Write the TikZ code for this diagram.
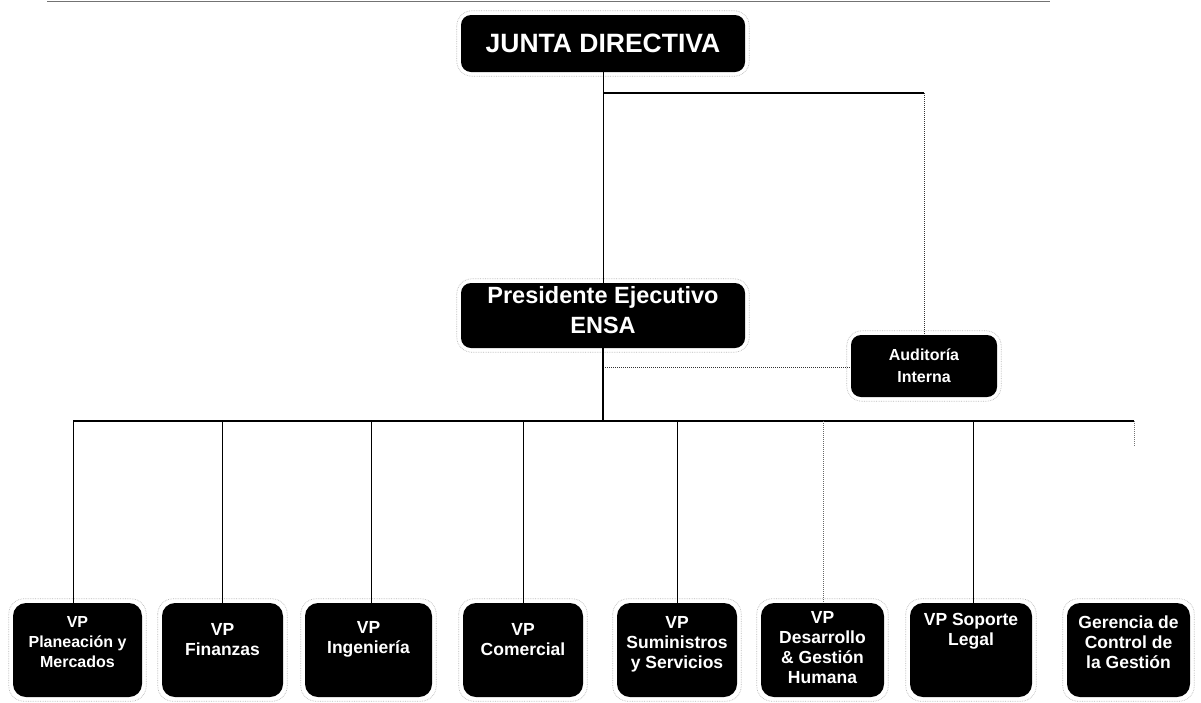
\documentclass[tikz,border=0pt]{standalone}
\usepackage{fontspec}
\setmainfont{Liberation Sans}
\begin{document}
\begin{tikzpicture}[x=1pt,y=-1pt,
  box/.style={fill=black, rounded corners=13pt, inner sep=0pt, minimum height=94},
  bigbox/.style={fill=black, rounded corners=10pt, inner sep=0pt},
  lbl/.style={text=white, font=\bfseries\fontsize{17.5}{20}\selectfont, align=center, inner sep=0pt},
  ring/.style={draw=black!28, line width=0.7pt, rounded corners=15pt, densely dotted},
  link/.style={draw=black, line width=1.3pt},
  drop/.style={draw=black, line width=0.8pt},
  dotline/.style={draw=black!80, line width=1pt, densely dotted}]
\useasboundingbox (0,0) rectangle (1201,702);

% page rule at top
\coordinate (r1) at (47,1.5);
\coordinate (r2) at (1050,1.5);
\draw[draw=black!55, line width=1.3pt] (r1) -- (r2);

% upper boxes
\node[bigbox, minimum width=284, minimum height=57] (junta) at (603,43.5) {};
\node[text=white, font=\bfseries\fontsize{26.5}{30}\selectfont, inner sep=0pt] (tjunta) at (junta.center) {JUNTA DIRECTIVA};
\node[bigbox, minimum width=284, minimum height=65] (pres) at (603,315.5) {};
\node[text=white, font=\bfseries\fontsize{23.5}{30}\selectfont, align=center, inner sep=0pt] (tpres) at ([yshift=5pt]pres.center) {Presidente Ejecutivo\\ENSA};
\node[bigbox, minimum width=146, minimum height=62] (aud) at (924,366) {};
\node[lbl, font=\bfseries\fontsize{16}{22}\selectfont] (taud) at (aud.center) {Auditoría\\Interna};

% bottom boxes
\node[box, minimum width=129] (b1) at (77.5,650) {};
\node[box, minimum width=121] (b2) at (222.5,650) {};
\node[box, minimum width=127] (b3) at (368.5,650) {};
\node[box, minimum width=120] (b4) at (523,650) {};
\node[box, minimum width=120] (b5) at (677,650) {};
\node[box, minimum width=123] (b6) at (822.5,650) {};
\node[box, minimum width=122] (b7) at (971,650) {};
\node[box, minimum width=123] (b8) at (1128.5,650) {};

\node[lbl, font=\bfseries\fontsize{16}{20}\selectfont] (l1) at ([yshift=8pt]b1.center) {VP\\Planeación y\\Mercados};
\node[lbl] (l2) at ([yshift=10pt]b2.center) {VP\\Finanzas};
\node[lbl] (l3) at ([yshift=11pt]b3.center) {VP\\Ingeniería};
\node[lbl] (l4) at ([yshift=10pt]b4.center) {VP\\Comercial};
\node[lbl] (l5) at ([yshift=6pt]b5.center) {VP\\Suministros\\y Servicios};
\node[lbl] (l6) at ([yshift=2pt]b6.center) {VP\\Desarrollo\\\& Gestión\\Humana};
\node[lbl] (l7) at ([yshift=19pt]b7.center) {VP Soporte\\Legal};
\node[lbl] (l8) at ([yshift=8pt]b8.center) {Gerencia de\\Control de\\la Gestión};

% light outlines round the boxes
\foreach \n in {junta,pres,aud,b1,b2,b3,b4,b5,b6,b7,b8}
  \draw[ring] ([shift={(-4,-4)}]\n.north west) rectangle ([shift={(4,4)}]\n.south east);

% connectors
\coordinate (br) at (603,93);
\draw[drop, line width=1pt] (junta.south) -- (pres.north);
\draw[link] (br) -- (br -| aud.north);
\draw[dotline] (br -| aud.north) -- (aud.north);
\coordinate (dl) at (603,367);
\draw[dotline] (dl) -- (dl -| aud.west);

\coordinate (bus) at (603,421);
\draw[link] (pres.south) -- (bus);
\coordinate (t1) at (73,421);
\coordinate (t2) at (222,421);
\coordinate (t3) at (371,421);
\coordinate (t4) at (523,421);
\coordinate (t5) at (677,421);
\coordinate (t6) at (823,421);
\coordinate (t7) at (973,421);
\coordinate (t8) at (1134,421);
\coordinate (s8) at (1134,446);
\draw[link] (t1) -- (t8);
\draw[drop] (t1) -- (t1 |- b1.north);
\draw[drop] (t2) -- (t2 |- b2.north);
\draw[drop] (t3) -- (t3 |- b3.north);
\draw[drop] (t4) -- (t4 |- b4.north);
\draw[drop] (t5) -- (t5 |- b5.north);
\draw[dotline, draw=black!60] (t6) -- (t6 |- b6.north);
\draw[drop] (t7) -- (t7 |- b7.north);
\draw[dotline, draw=black!55] (t8) -- (s8);
\end{tikzpicture}
\end{document}
